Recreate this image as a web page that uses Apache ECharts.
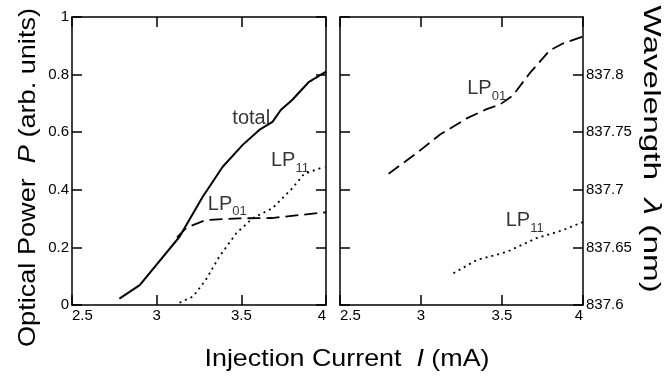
<!DOCTYPE html>
<html>
<head>
<meta charset="utf-8">
<script src="https://cdn.jsdelivr.net/npm/echarts@6/dist/echarts.min.js"></script>
<style>html,body{margin:0;padding:0;background:#fff;}#c{width:672px;height:376px;}</style>
</head>
<body>
<div id="c"></div>
<script>
// ---- data ----
const xTicks = [2.5, 3, 3.5, 4];
const powerTicks = [0, 0.2, 0.4, 0.6, 0.8, 1];
const wavelengthTicks = [837.6, 837.65, 837.7, 837.75, 837.8, 837.85];

const totalI = [2.78, 2.9, 3.135, 3.272, 3.39, 3.508, 3.606, 3.684, 3.733, 3.80, 3.90, 4.0];
const totalP = [0.022, 0.069, 0.237, 0.376, 0.48, 0.556, 0.608, 0.636, 0.677, 0.712, 0.775, 0.81];

const lp01I = [3.12, 3.175, 3.29, 3.49, 3.68, 3.84, 4.0];
const lp01P = [0.235, 0.268, 0.295, 0.301, 0.302, 0.312, 0.322];

const lp11I = [3.135, 3.214, 3.29, 3.37, 3.47, 3.566, 3.684, 3.80, 3.87, 3.99];
const lp11P = [0.008, 0.029, 0.087, 0.168, 0.249, 0.301, 0.336, 0.405, 0.455, 0.48];

const lp01WlI = [2.80, 2.975, 3.118, 3.282, 3.405, 3.487, 3.568, 3.67, 3.794, 3.876, 4.0];
const lp01Wl = [837.714, 837.732, 837.748, 837.762, 837.770, 837.774, 837.782, 837.801, 837.821, 837.827, 837.833];

const lp11WlI = [3.20, 3.343, 3.528, 3.712, 3.876, 4.0];
const lp11Wl = [837.6275, 837.639, 837.646, 837.658, 837.665, 837.672];

// annotation anchors (data coords)
const leftNotes = [
  {x: 3.447, y: 0.683, main: 'total', sub: ''},
  {x: 3.675, y: 0.535, main: 'LP', sub: '11'},
  {x: 3.302, y: 0.385, main: 'LP', sub: '01'}
];
const rightNotes = [
  {x: 3.2855, y: 837.7964, main: 'LP', sub: '01'},
  {x: 3.523, y: 837.682, main: 'LP', sub: '11'}
];

// ---- build ----
const FONT = '"Liberation Sans", Arial, sans-serif';
const zip = (a, b) => a.map((v, i) => [v, b[i]]);
const black = '#000';

function xAxisPair(grid) {
  const base = {
    type: 'value', gridIndex: grid, min: xTicks[0], max: xTicks[xTicks.length - 1], interval: 0.5,
    splitLine: {show: false},
    axisLine: {show: true, onZero: false, lineStyle: {color: black, width: 1.5}},
    axisTick: {show: true, inside: true, length: 10, lineStyle: {color: black, width: 1.5}}
  };
  return [
    Object.assign({}, base, {position: 'bottom', axisLabel: {show: true, color: black, fontSize: 15, fontFamily: FONT, margin: 3, alignMinLabel: 'left', alignMaxLabel: 'right'}}),
    Object.assign({}, base, {position: 'top', axisLabel: {show: false}})
  ];
}
function yAxisPair(grid, ticks, labelSide) {
  const base = {
    type: 'value', gridIndex: grid, min: ticks[0], max: ticks[ticks.length - 1], interval: +(ticks[1] - ticks[0]).toFixed(3),
    splitLine: {show: false}, scale: true,
    axisLine: {show: true, onZero: false, lineStyle: {color: black, width: 1.5}},
    axisTick: {show: true, inside: true, length: 10, lineStyle: {color: black, width: 1.5}}
  };
  const lbl = {show: true, color: black, fontSize: 15, fontFamily: FONT, margin: 3,
    formatter: v => String(+(+v).toFixed(2))};
  const left = Object.assign({}, base, {position: 'left', axisLabel: labelSide === 'left' ? lbl : {show: false}});
  const right = Object.assign({}, base, {position: 'right', axisLabel: labelSide === 'right' ? Object.assign({}, lbl, {showMaxLabel: false}) : {show: false}});
  return [left, right];
}

const rich = {
  m: {fontSize: 20, lineHeight: 20, fontFamily: FONT, color: black, verticalAlign: 'top'},
  s: {fontSize: 13, lineHeight: 13, fontFamily: FONT, color: black, verticalAlign: 'top', padding: [11, 0, 0, 0]}
};
function noteSeries(notes, xi, yi) {
  return {
    type: 'scatter', xAxisIndex: xi, yAxisIndex: yi, symbolSize: 0, silent: true,
    data: notes.map(n => ({value: [n.x, n.y], note: n})),
    label: {
      show: true, position: [0, 0], align: 'left', verticalAlign: 'top',
      formatter: p => '{m|' + p.data.note.main + '}' + (p.data.note.sub ? '{s|' + p.data.note.sub + '}' : ''),
      rich: rich
    }
  };
}
function line(data, xi, yi, type, w) {
  return {
    type: 'line', xAxisIndex: xi, yAxisIndex: yi, data: data, symbol: 'none', silent: true,
    lineStyle: {color: black, width: w, type: type}
  };
}

function measure(text, size) {
  const c = document.createElement('canvas').getContext('2d');
  c.font = size + 'px ' + FONT;
  return c.measureText(text).width;
}
function title(parts, cx, cy, rot, size, targetLen) {
  const plain = parts.map(p => p[0]).join('');
  const w = measure(plain, size);
  const txt = parts.map(p => '{' + (p[1] ? 'i' : 'n') + '|' + p[0] + '}').join('');
  return {
    type: 'text', x: cx, y: cy, rotation: rot, scaleX: targetLen / w, silent: true,
    style: {
      text: txt, textAlign: 'center', textVerticalAlign: 'middle',
      rich: {
        n: {fontSize: size, fontFamily: FONT, fill: black, color: black},
        i: {fontSize: size, fontFamily: FONT, fontStyle: 'italic', fill: black, color: black}
      }
    }
  };
}

const xa = xAxisPair(0).concat(xAxisPair(1));
const ya = yAxisPair(0, powerTicks, 'left').concat(yAxisPair(1, wavelengthTicks, 'right'));

const option = {
  animation: false,
  backgroundColor: '#fff',
  grid: [
    {left: 72, top: 17, width: 254, height: 288},
    {left: 340, top: 17, width: 243, height: 288}
  ],
  xAxis: xa,
  yAxis: ya,
  series: [
    line(zip(totalI, totalP), 0, 0, 'solid', 2),
    line(zip(lp01I, lp01P), 0, 0, [13, 6], 1.8),
    line(zip(lp11I, lp11P), 0, 0, [2, 4], 1.8),
    line(zip(lp01WlI, lp01Wl), 2, 3, [13, 6], 1.8),
    line(zip(lp11WlI, lp11Wl), 2, 3, [2, 4], 1.8),
    noteSeries(leftNotes, 0, 0),
    noteSeries(rightNotes, 2, 3)
  ],
  graphic: [
    title([['Optical Power  ', false], ['P', true], [' (arb. units)', false]], 28.5, 177.5, Math.PI / 2, 24, 339),
    title([['Wavelength  ', false], ['λ', true], [' (nm)', false]], 651, 149, -Math.PI / 2, 24, 288),
    title([['Injection Current  ', false], ['I', true], [' (mA)', false]], 347, 359, 0, 24, 285)
  ]
};

const chart = echarts.init(document.getElementById('c'), null, {renderer: 'canvas'});
chart.setOption(option);
</script>
</body>
</html>
